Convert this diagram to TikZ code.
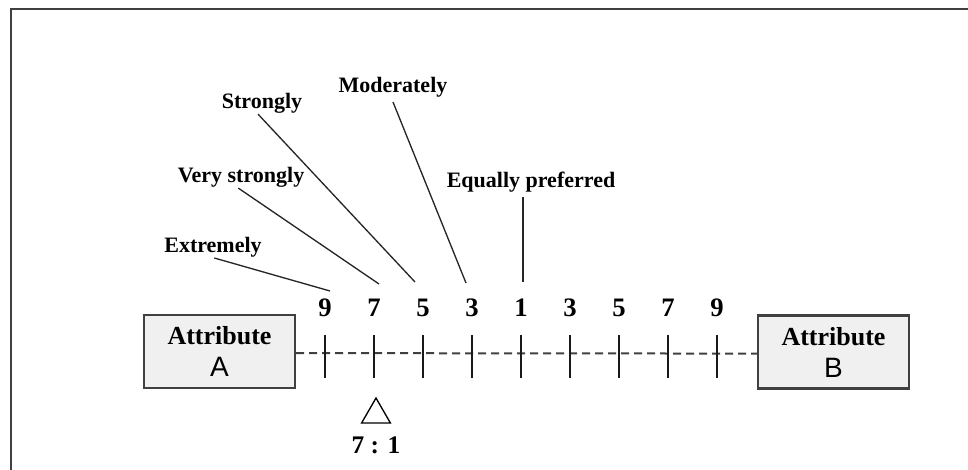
\documentclass[tikz,border=0pt]{standalone}
\usepackage{fontspec}
\setmainfont{Liberation Serif}
\newfontfamily\sansA{Liberation Sans}
\usetikzlibrary{shapes.geometric}
\begin{document}
\begin{tikzpicture}[x=0.75pt,y=-0.75pt,
  lbl/.style={font=\fontsize{16.5}{18}\selectfont\bfseries, inner sep=0pt, anchor=base},
  num/.style={font=\fontsize{20}{22}\selectfont\bfseries, inner sep=0pt, anchor=base},
  attr/.style={draw=black!75, line width=1.8pt, fill=black!6, minimum width=113pt, minimum height=55pt, align=center, inner sep=0pt, font=\fontsize{19.5}{24}\selectfont\bfseries},
  conn/.style={line width=1pt, black!85},
  tickln/.style={line width=1.5pt, black!90},
  scaleln/.style={line width=1.5pt, black!75, dash pattern=on 6pt off 3.75pt},
]
\useasboundingbox (0,0) rectangle (968,470);
\clip (0,0) rectangle (968,470);
\draw[line width=2.2pt, black!75] (11,480) -- (11,9) -- (980,9);

% attribute boxes
\node[attr] (boxA) at (219.5,351.5) {Attribute\\[0pt]{\sansA\mdseries\fontsize{21}{24}\selectfont A}};
\node[attr] (boxB) at (833.5,352) {Attribute\\[0pt]{\sansA\mdseries\fontsize{21}{24}\selectfont B}};

% dashed scale line
\draw[scaleln] ([yshift=-1.2pt]boxA.east) -- ([yshift=-1.2pt]boxB.west);

% ticks and numbers
\foreach \i/\v in {1/9,2/7,3/5,4/3,5/1,6/3,7/5,8/7,9/9}{
  \draw[tickln] ({325+49*(\i-1)},335) -- ({325+49*(\i-1)},378);
  \node[num] (n\i) at ({325+49*(\i-1)},317) {\v};
}

% verbal labels
\node[lbl] (ext) at (213,253) {Extremely};
\node[lbl] (vst) at (241,183) {Very strongly};
\node[lbl] (str) at (262,109) {Strongly};
\node[lbl] (mod) at (393,93) {Moderately};
\node[lbl] (eqp) at (531,188) {Equally preferred};

\coordinate (e9) at (330,291);
\coordinate (e7) at (379,284);
\coordinate (e5) at (415,282);
\coordinate (e3) at (466,283);
\coordinate (e1) at (523,282);

\draw[conn] ([xshift=1pt]ext.south) -- (e9);
\draw[conn] ([xshift=-2pt]vst.south) -- (e7);
\draw[conn] ([xshift=-3pt]str.south) -- (e5);
\draw[conn] ([yshift=-3pt]mod.south) -- (e3);
\draw[conn] ([yshift=-3pt]eqp.south -| e1) -- (e1);

% marker
\node[draw, regular polygon, regular polygon sides=3, minimum size=25pt, inner sep=0pt, fill=white, line width=1pt] (tri) at (376,414.7) {};
\node[num, font=\fontsize{19}{21}\selectfont\bfseries] (ratio) at (376,453) {7 : 1};
\end{tikzpicture}
\end{document}
